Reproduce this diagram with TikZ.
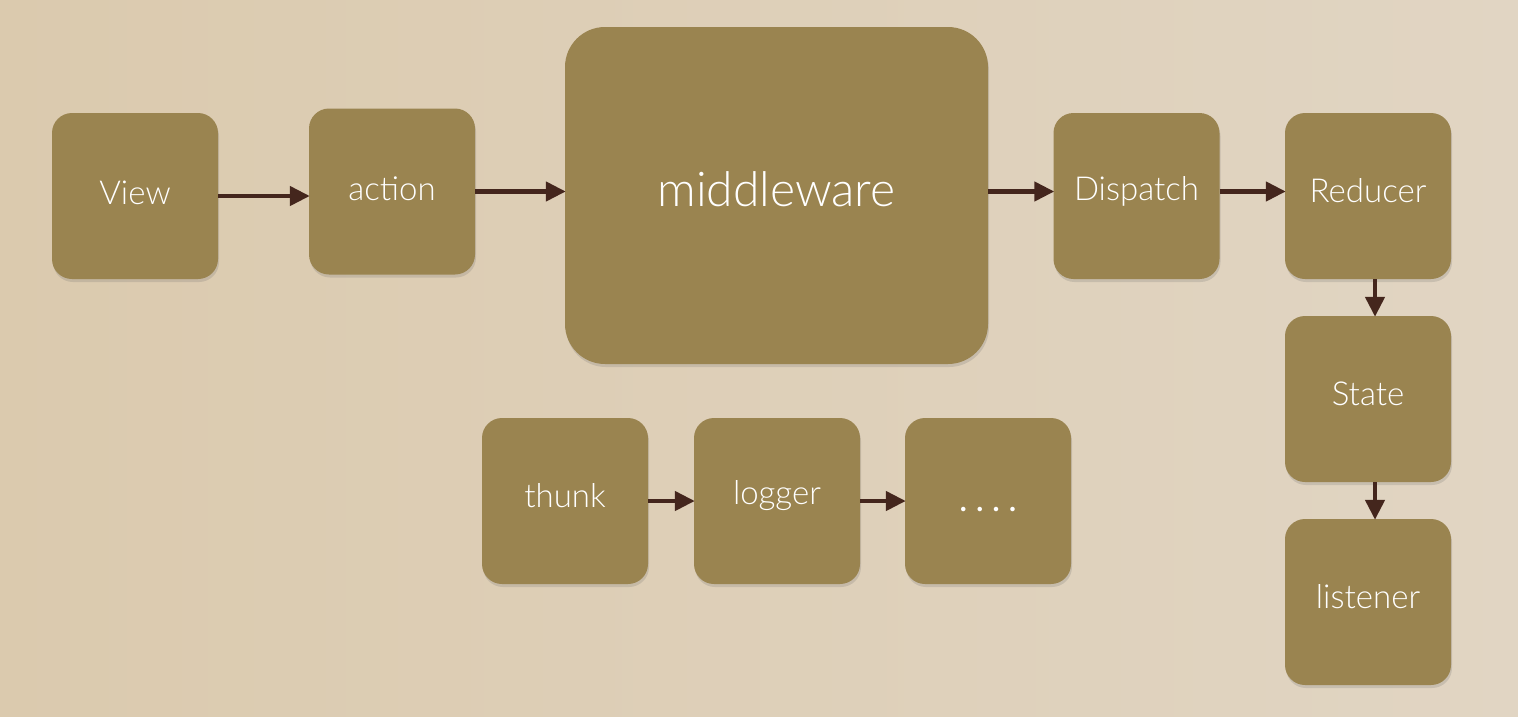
\documentclass[tikz,border=0pt]{standalone}
\usepackage{fontspec}
\setmainfont{Lato Light}
\newfontfamily\dotsfont{Lato}
\usetikzlibrary{arrows.meta,shadows}
\definecolor{bg}{HTML}{E1D5C3}
\definecolor{bgdark}{HTML}{DBCAAE}
\definecolor{boxc}{HTML}{9A8450}
\definecolor{arr}{HTML}{44261D}
\tikzset{
  box/.style={fill=boxc, rounded corners=20pt, minimum width=166pt, minimum height=166pt,
    text=white, font=\fontsize{33}{38}\selectfont, inner sep=0pt,
    drop shadow={shadow xshift=1pt, shadow yshift=-3pt, opacity=0.2, fill=black!60}},
  bigbox/.style={box, rounded corners=40pt, minimum width=423pt, minimum height=337pt,
    font=\fontsize{48}{54}\selectfont},
  conn/.style={draw=arr, line width=4.5pt, -{Triangle[length=20pt,width=19pt]}, shorten >=-1pt},
  lbl/.style={text=white, font=\fontsize{33}{38}\selectfont, inner sep=0pt},
}
\begin{document}
\begin{tikzpicture}[x=1pt,y=-1pt]
\useasboundingbox (0,0) rectangle (1518,716);
\shade[left color=bgdark, right color=bg] (0,0) rectangle (1518,716);

\node[box] (view) at (135,196) {};
\node[box] (action) at (392,191.5) {};
\node[bigbox] (mw) at (776.5,195.5) {};
\node[box] (disp) at (1136.5,196) {};
\node[box] (red) at (1368,196) {};
\node[box] (state) at (1368,399) {};
\node[box] (list) at (1368,602) {};
\node[box] (thunk) at (565,501) {};
\node[box] (logger) at (777,501) {};
\node[box] (dots) at (988,501) {};

\node[lbl] (tview) at ([yshift=3pt]view.center) {View};
\node[lbl] (taction) at ([yshift=3pt]action.center) {action};
\node[lbl, font=\fontsize{48}{54}\selectfont] (tmw) at ([yshift=6pt]mw.center) {middleware};
\node[lbl] (tdisp) at ([yshift=5pt]disp.center) {Dispatch};
\node[lbl] (tred) at ([yshift=5pt]red.center) {Reducer};
\node[lbl] (tstate) at ([yshift=5pt]state.center) {State};
\node[lbl] (tlist) at ([yshift=5pt]list.center) {listener};
\node[lbl] (tthunk) at ([yshift=5pt]thunk.center) {thunk};
\node[lbl] (tlogger) at ([yshift=5pt]logger.center) {logger};
\node[lbl, font=\dotsfont\fontsize{36}{40}\selectfont] (tdots) at ([yshift=-8pt]dots.center) {.\hspace{8pt}.\hspace{8pt}.\hspace{8pt}.};

\draw[conn] (view.east) -- (action.west |- view.east);
\draw[conn] (action.east) -- (mw.west |- action.east);
\draw[conn] (mw.east |- action.east) -- (disp.west |- action.east);
\draw[conn] (disp.east |- action.east) -- (red.west |- action.east);
\draw[conn] ([xshift=7pt]red.south) -- ([xshift=7pt]state.north);
\draw[conn] ([xshift=7pt]state.south) -- ([xshift=7pt]list.north);
\draw[conn] (thunk.east) -- (logger.west);
\draw[conn] (logger.east) -- (dots.west);
\end{tikzpicture}
\end{document}
